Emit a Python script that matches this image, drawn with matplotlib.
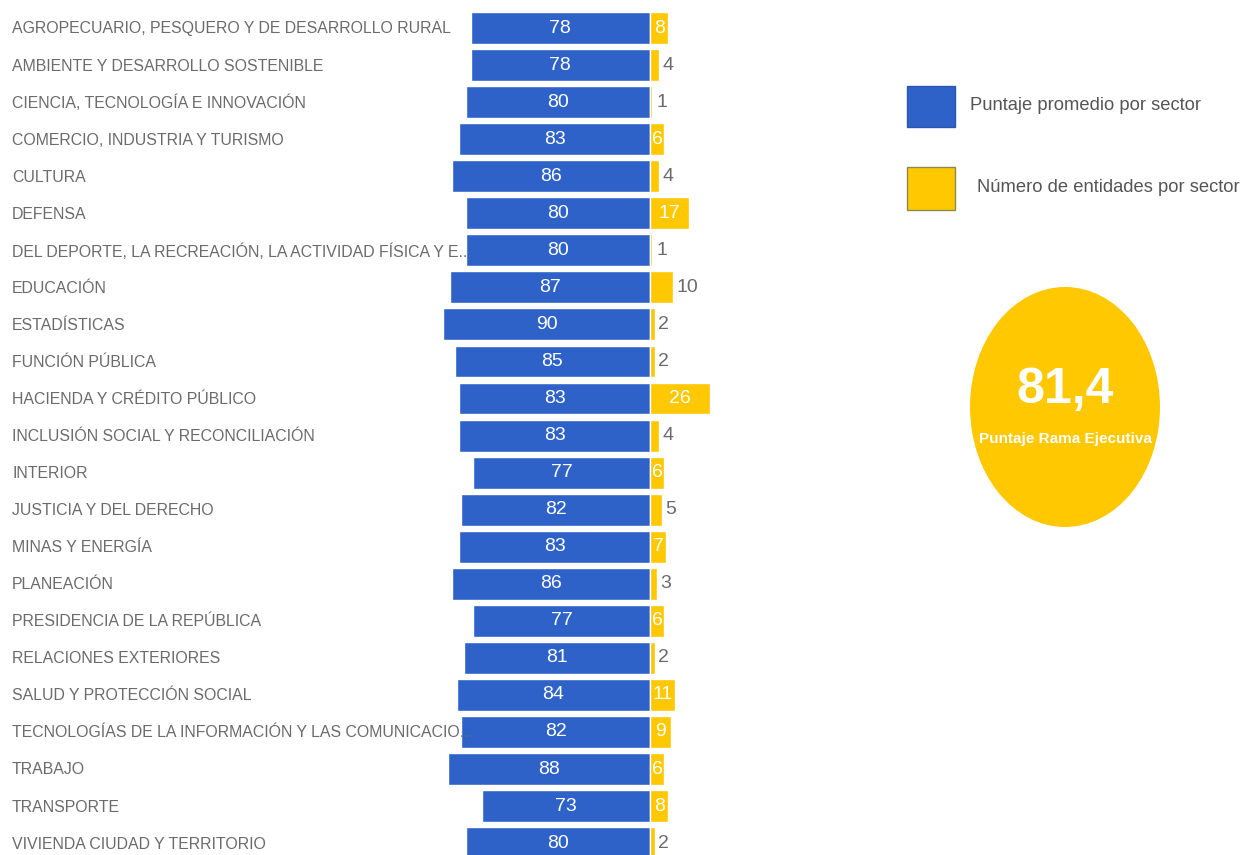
import matplotlib.pyplot as plt
from matplotlib.patches import Ellipse, Rectangle

sectores = [
    "AGROPECUARIO, PESQUERO Y DE DESARROLLO RURAL",
    "AMBIENTE Y DESARROLLO SOSTENIBLE",
    "CIENCIA, TECNOLOGÍA E INNOVACIÓN",
    "COMERCIO, INDUSTRIA Y TURISMO",
    "CULTURA",
    "DEFENSA",
    "DEL DEPORTE, LA RECREACIÓN, LA ACTIVIDAD FÍSICA Y E...",
    "EDUCACIÓN",
    "ESTADÍSTICAS",
    "FUNCIÓN PÚBLICA",
    "HACIENDA Y CRÉDITO PÚBLICO",
    "INCLUSIÓN SOCIAL Y RECONCILIACIÓN",
    "INTERIOR",
    "JUSTICIA Y DEL DERECHO",
    "MINAS Y ENERGÍA",
    "PLANEACIÓN",
    "PRESIDENCIA DE LA REPÚBLICA",
    "RELACIONES EXTERIORES",
    "SALUD Y PROTECCIÓN SOCIAL",
    "TECNOLOGÍAS DE LA INFORMACIÓN Y LAS COMUNICACIO...",
    "TRABAJO",
    "TRANSPORTE",
    "VIVIENDA CIUDAD Y TERRITORIO",
]
puntaje = [78, 78, 80, 83, 86, 80, 80, 87, 90, 85, 83, 83, 77, 82, 83, 86, 77, 81, 84, 82, 88, 73, 80]
entidades = [8, 4, 1, 6, 4, 17, 1, 10, 2, 2, 26, 4, 6, 5, 7, 3, 6, 2, 11, 9, 6, 8, 2]
# etiqueta dentro de la barra amarilla (True) o fuera (False)
dentro = [True, False, False, True, False, True, False, False, False, False, True, False,
          True, False, True, False, True, False, True, True, True, True, False]
puntaje_rama = "81,4"

AZUL = "#2E62C9"
AMARILLO = "#FFC800"
GRIS = "#6b6b6b"
fam = ["Liberation Sans Narrow", "Liberation Sans", "DejaVu Sans"]

W, H = 1243, 855
fig = plt.figure(figsize=(W / 100, H / 100), dpi=100)

# axes de barras: x de 420 a 720 px, y completo
ax = fig.add_axes([420 / W, 0, 300 / W, 1])
n = len(sectores)
y = list(range(n))
ax.barh(y, [-p for p in puntaje], height=0.86, color=AZUL, edgecolor="white", linewidth=1)
ax.barh(y, entidades, height=0.86, color=AMARILLO, edgecolor="white", linewidth=1)
ax.set_xlim(-100, 30.4)
ax.set_ylim(22.32, -0.756)
ax.axis("off")

for i in range(n):
    ax.text(-puntaje[i] / 2, i, str(puntaje[i]), color="white", ha="center", va="center",
            fontsize=14, family=fam)
    if dentro[i]:
        ax.text(entidades[i] / 2, i, str(entidades[i]), color="white", ha="center", va="center",
                fontsize=14, family=fam)
    else:
        ax.text(entidades[i] + 1.6, i, str(entidades[i]), color=GRIS, ha="left", va="center",
                fontsize=14, family=fam)

# etiquetas de sector a la izquierda
for i, s in enumerate(sectores):
    yp = 1 - (29 + 37.05 * i) / H
    fig.text(12 / W, yp, s, color=GRIS, ha="left", va="center", fontsize=11.4, family=fam)

# leyenda
fig.add_artist(Rectangle((907 / W, 1 - 127 / H), 48 / W, 41 / H, transform=fig.transFigure,
                         facecolor=AZUL, edgecolor="#2a56b0", linewidth=1))
fig.add_artist(Rectangle((907 / W, 1 - 210 / H), 48 / W, 43 / H, transform=fig.transFigure,
                         facecolor=AMARILLO, edgecolor="#8a8a50", linewidth=1))
fig.text(970 / W, 1 - 106 / H, "Puntaje promedio por sector", color="#555555",
         ha="left", va="center", fontsize=13.2, family=fam)
fig.text(977 / W, 1 - 188 / H, "Número de entidades por sector", color="#555555",
         ha="left", va="center", fontsize=13.2, family=fam)

# indicador circular
fig.add_artist(Ellipse((1065 / W, 1 - 407 / H), 190 / W, 240 / H, transform=fig.transFigure,
                       facecolor=AMARILLO, edgecolor="none"))
fig.text(1065 / W, 1 - 390 / H, puntaje_rama, color="white", ha="center", va="center",
         fontsize=36, fontweight="bold", family=fam)
fig.text(1065 / W, 1 - 439 / H, "Puntaje Rama Ejecutiva", color="white", ha="center",
         va="center", fontsize=11, fontweight="bold", family=fam)

fig.savefig("out.png", dpi=100, facecolor="white")
